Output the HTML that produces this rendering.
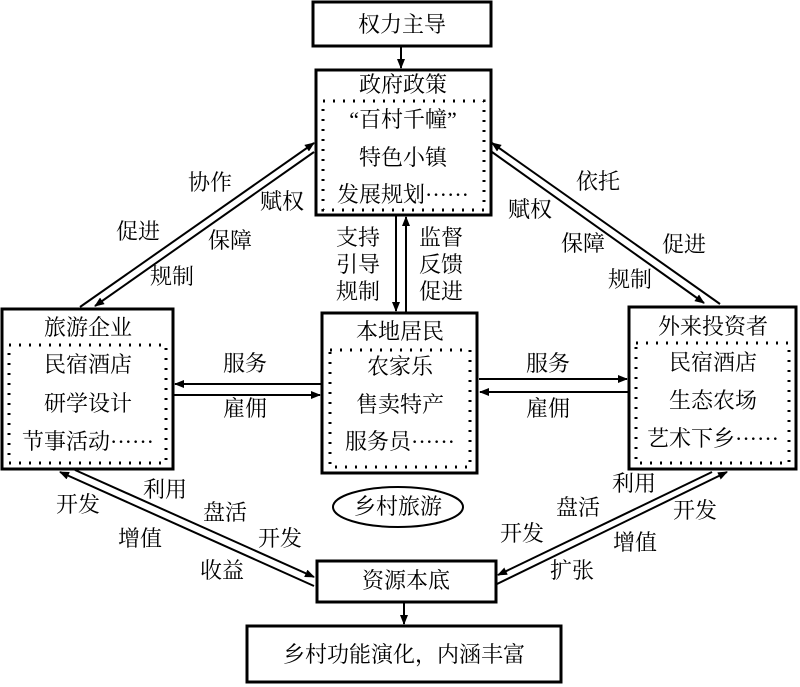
<!DOCTYPE html>
<html><head><meta charset="utf-8"><style>
html,body{margin:0;padding:0;background:#fff;}
svg{display:block;}
text{font-family:"Liberation Serif","Noto Serif CJK SC","Noto Sans CJK SC",serif;font-size:22px;fill:#000;}
</style></head><body>
<svg width="800" height="687" viewBox="0 0 800 687" xmlns="http://www.w3.org/2000/svg">
<defs>
<marker id="a" markerWidth="10" markerHeight="8" refX="9" refY="4" orient="auto" markerUnits="userSpaceOnUse"><path d="M0,0 L10,4 L0,8 Z" fill="#000"/></marker>
</defs>
<g fill="none" stroke="#000" stroke-width="3">
<rect x="313" y="2" width="178" height="44"/>
<rect x="316" y="70" width="175" height="145"/>
<rect x="2" y="309" width="171" height="160"/>
<rect x="322" y="313" width="155" height="160"/>
<rect x="629" y="307" width="167" height="162"/>
<rect x="317" y="561" width="179" height="41"/>
<rect x="247" y="626" width="314" height="56"/>
</g>
<g fill="none" stroke="#000" stroke-width="3" stroke-dasharray="2 8">
<rect x="323" y="101" width="161" height="109"/>
<rect x="9" y="345" width="157" height="118"/>
<rect x="330" y="350" width="140" height="117"/>
<rect x="636" y="343" width="153" height="120"/>
</g>
<ellipse cx="398" cy="507" rx="65" ry="20" fill="none" stroke="#000" stroke-width="2"/>
<g stroke="#000" stroke-width="2" fill="none" marker-end="url(#a)">
<line x1="401" y1="47" x2="401" y2="68"/>
<line x1="396" y1="216" x2="396" y2="311"/>
<line x1="406" y1="312" x2="406" y2="217"/>
<line x1="404" y1="603" x2="404" y2="624"/>
<line x1="321" y1="384" x2="175" y2="384"/>
<line x1="174" y1="395" x2="320" y2="395"/>
<line x1="479" y1="379" x2="627" y2="379"/>
<line x1="628" y1="392" x2="480" y2="392"/>
<line x1="80" y1="307" x2="314" y2="143"/>
<line x1="314" y1="152" x2="95" y2="306"/>
<line x1="720" y1="304" x2="492" y2="143"/>
<line x1="492" y1="152" x2="704" y2="303"/>
<line x1="314" y1="586" x2="60" y2="472"/>
<line x1="75" y1="470" x2="314" y2="577"/>
<line x1="497" y1="584" x2="727" y2="472"/>
<line x1="712" y1="472" x2="498" y2="575"/>
</g>
<g text-anchor="middle">
<text x="402" y="32">权力主导</text>
<text x="403" y="92">政府政策</text>
<text x="403" y="127">“百村千幢”</text>
<text x="403" y="165">特色小镇</text>
<text x="403" y="202">发展规划······</text>
<text x="88" y="335">旅游企业</text>
<text x="88" y="372">民宿酒店</text>
<text x="88" y="411">研学设计</text>
<text x="88" y="449">节事活动······</text>
<text x="400" y="339">本地居民</text>
<text x="400" y="374">农家乐</text>
<text x="400" y="412">售卖特产</text>
<text x="400" y="449">服务员······</text>
<text x="713" y="334">外来投资者</text>
<text x="713" y="370">民宿酒店</text>
<text x="713" y="408">生态农场</text>
<text x="713" y="446">艺术下乡······</text>
<text x="406" y="588">资源本底</text>
<text x="404" y="662">乡村功能演化，内涵丰富</text>
<text x="398" y="514">乡村旅游</text>
<text x="358" y="245">支持</text><text x="358" y="272">引导</text><text x="358" y="299">规制</text>
<text x="441" y="245">监督</text><text x="441" y="272">反馈</text><text x="441" y="299">促进</text>
<text x="245" y="371">服务</text><text x="245" y="416">雇佣</text>
<text x="548" y="371">服务</text><text x="548" y="416">雇佣</text>
<text x="210" y="190">协作</text><text x="282" y="209">赋权</text>
<text x="138" y="239">促进</text><text x="230" y="248">保障</text>
<text x="172" y="284">规制</text>
<text x="598" y="189">依托</text><text x="530" y="217">赋权</text>
<text x="583" y="251">保障</text><text x="684" y="252">促进</text>
<text x="630" y="287">规制</text>
<text x="165" y="497">利用</text><text x="78" y="512">开发</text>
<text x="225" y="520">盘活</text><text x="140" y="546">增值</text>
<text x="280" y="546">开发</text><text x="222" y="578">收益</text>
<text x="634" y="491">利用</text><text x="578" y="515">盘活</text>
<text x="695" y="518">开发</text><text x="522" y="541">开发</text>
<text x="635" y="550">增值</text><text x="572" y="578">扩张</text>
</g>
</svg>
</body></html>
